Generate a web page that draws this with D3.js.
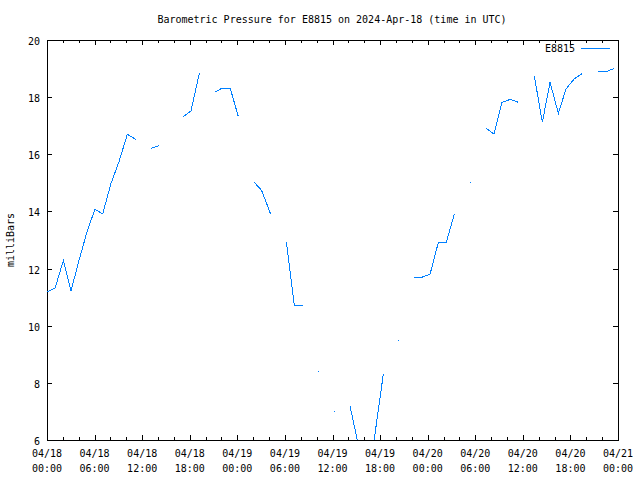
<!DOCTYPE html>
<html><head><meta charset="utf-8">
<script src="https://cdn.jsdelivr.net/npm/d3@7"></script>
<style>body{margin:0;background:#fff}svg text{font-family:"DejaVu Sans Mono",monospace;font-size:10px;fill:#000}</style>
</head><body><svg id="c" width="640" height="480"></svg>
<script>
const title = "Barometric Pressure for E8815 on 2024-Apr-18 (time in UTC)";
const seriesName = "E8815";
const yLabel = "milliBars";
// hours after 2024-04-18 00:00 UTC
const hours = [0,1.01,2.06,3.03,4.05,5.05,6.05,7.02,8.07,9.08,10.13,11.19,12.2,13.11,14.16,15.2,16.2,17.19,18.16,19.21,20.2,21.22,22.07,23.11,24.12,25.1,26.14,27.07,28.21,29.2,30.18,31.19,32.24,33.2,34.21,35.2,36.23,37.2,38.21,39.2,40.2,41.2,42.41,43.3,44.30,45.3,46.28,47.3,48.30,49.35,50.35,51.36,52.3,53.34,54.3,55.36,56.37,57.38,58.39,59.43,60.4,61.45,62.46,63.43,64.48,65.45,66.49,67.50,68.5,69.52,70.6,71.54];
const pressure = [11.19,11.31,12.28,11.22,12.3,13.29,14.08,13.91,14.98,15.74,16.70,16.52,null,16.21,16.31,null,null,17.32,17.52,18.83,null,18.19,18.31,18.31,17.32,null,15.02,14.73,13.90,null,12.94,10.71,10.71,null,8.40,null,7.00,null,7.19,5.9,5.3,5.9,8.31,null,9.49,null,11.69,11.70,11.80,12.92,12.92,13.90,null,15.02,null,16.91,16.71,17.82,17.92,17.82,null,18.74,17.12,18.52,17.43,18.29,18.64,18.83,null,18.90,18.90,19.01];
const yTicks = [6,8,10,12,14,16,18,20];
const xTickHours = [0,6,12,18,24,30,36,42,48,54,60,66,72];

const t0 = Date.UTC(2024,3,18);
const data = hours.map((h,i)=>({t:new Date(t0+h*3600e3), v:pressure[i]}));
const L=47,R=618,T=40,B=440;
const svg = d3.select("#c");
const x = d3.scaleUtc().domain([new Date(t0), new Date(t0+72*3600e3)]).range([L,R]);
const y = d3.scaleLinear().domain([6,20]).range([B,T]);
const blue = "#0080ff";

svg.append("defs").append("clipPath").attr("id","pc").append("rect")
  .attr("x",L).attr("y",T).attr("width",R-L).attr("height",B-T);

// ticks
const g = svg.append("g").attr("stroke","#000").attr("stroke-width",1).attr("shape-rendering","crispEdges");
for (let h=0; h<=72; h+=2){
  const xx = Math.round(x(new Date(t0+h*3600e3)))+0.5;
  const len = (h%6===0)?5:3;
  g.append("line").attr("x1",xx).attr("x2",xx).attr("y1",B).attr("y2",B-len);
  g.append("line").attr("x1",xx).attr("x2",xx).attr("y1",T).attr("y2",T+len);
}
yTicks.forEach(v=>{
  const yy = Math.round(y(v))+0.5;
  g.append("line").attr("x1",L).attr("x2",L+5).attr("y1",yy).attr("y2",yy);
  g.append("line").attr("x1",R).attr("x2",R-5).attr("y1",yy).attr("y2",yy);
  svg.append("text").attr("x",40).attr("y",yy+4).attr("text-anchor","end").text(v);
});
const fmtD = d3.utcFormat("%m/%d"), fmtT = d3.utcFormat("%H:%M");
xTickHours.forEach(h=>{
  const d = new Date(t0+h*3600e3);
  const xx = x(d);
  svg.append("text").attr("x",xx).attr("y",457).attr("text-anchor","middle").text(fmtD(d));
  svg.append("text").attr("x",xx).attr("y",472).attr("text-anchor","middle").text(fmtT(d));
});
svg.append("rect").attr("x",L+0.5).attr("y",T+0.5).attr("width",R-L).attr("height",B-T)
  .attr("fill","none").attr("stroke","#000").attr("shape-rendering","crispEdges");

// title & labels
svg.append("text").attr("x",332).attr("y",23).attr("text-anchor","middle").text(title);
svg.append("text").attr("transform","translate(14,240) rotate(-90)").attr("text-anchor","middle").text(yLabel);

// series
const line = d3.line().defined(d=>d.v!=null).x(d=>x(d.t)).y(d=>y(d.v));
const pg = svg.append("g").attr("clip-path","url(#pc)");
pg.append("path").datum(data).attr("d",line).attr("fill","none").attr("stroke",blue)
  .attr("stroke-width",1).attr("shape-rendering","crispEdges");
data.forEach((d,i)=>{
  if (d.v==null) return;
  const p = i>0?data[i-1].v:null, n = i<data.length-1?data[i+1].v:null;
  if (p==null && n==null){
    pg.append("rect").attr("x",Math.round(x(d.t))).attr("y",Math.round(y(d.v))).attr("width",1).attr("height",1)
      .attr("fill",blue).attr("shape-rendering","crispEdges");
  }
});

// legend
svg.append("text").attr("x",575).attr("y",52).attr("text-anchor","end").text(seriesName);
svg.append("line").attr("x1",581).attr("x2",610).attr("y1",48.5).attr("y2",48.5).attr("stroke",blue).attr("shape-rendering","crispEdges");
</script></body></html>
